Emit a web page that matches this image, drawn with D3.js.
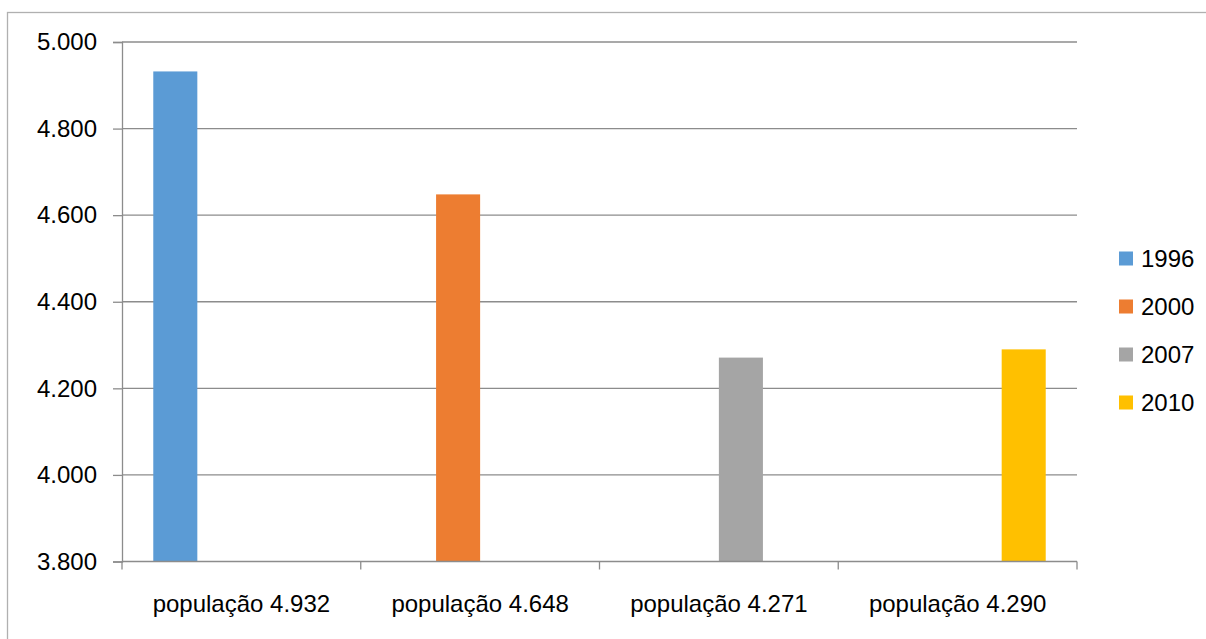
<!DOCTYPE html>
<html>
<head>
<meta charset="utf-8">
<script src="https://cdn.jsdelivr.net/npm/d3@7"></script>
<style>
  html, body { margin: 0; padding: 0; background: #fff; }
  svg { display: block; }
  text { font-family: "Liberation Sans", Arial, sans-serif; fill: #000; }
</style>
</head>
<body>
<svg id="chart" width="1206" height="639"></svg>
<script>
// Categories (x axis) and series (one per year)
const categories = ["população 4.932", "população 4.648", "população 4.271", "população 4.290"];
const years = ["1996", "2000", "2007", "2010"];
const colors = ["#5B9BD5", "#ED7D31", "#A5A5A5", "#FFC000"];

// One value per year; each year only has a value in its own category
const values1996 = [4932, null, null, null];
const values2000 = [null, 4648, null, null];
const values2007 = [null, null, 4271, null];
const values2010 = [null, null, null, 4290];
const seriesValues = [values1996, values2000, values2007, values2010];

const yTicks = [3800, 4000, 4200, 4400, 4600, 4800, 5000];
const yDomain = [3800, 5000];

const svg = d3.select("#chart");

// Outer chart frame
svg.append("rect")
  .attr("x", 7.5).attr("y", 12.5)
  .attr("width", 1210).attr("height", 640)
  .attr("fill", "#fff")
  .attr("stroke", "#b0b0b0")
  .attr("stroke-width", 1.3);

const plot = { left: 122, right: 1077, top: 42, bottom: 561.5 };

const y = d3.scaleLinear().domain(yDomain).range([plot.bottom, plot.top]);
const x0 = d3.scaleBand().domain(categories).range([plot.left, plot.right]).padding(0);
const bw = x0.bandwidth();
const x1 = d3.scaleBand().domain(years).range([bw * 0.131, bw * 0.869]).padding(0);

const fmt = v => d3.format(",.3f")(v / 1000).replace(/,/g, "");

// Horizontal gridlines
svg.append("g")
  .selectAll("line")
  .data(yTicks.filter(t => t !== yDomain[0]))
  .join("line")
  .attr("x1", plot.left).attr("x2", plot.right)
  .attr("y1", d => y(d)).attr("y2", d => y(d))
  .attr("stroke", "#8c8c8c")
  .attr("stroke-width", 1.3);

// Bars
const groups = svg.append("g")
  .selectAll("g")
  .data(years)
  .join("g")
  .attr("fill", (d, i) => colors[i]);

groups.selectAll("rect")
  .data((d, i) => categories.map((c, j) => ({ cat: c, year: d, value: seriesValues[i][j] }))
    .filter(e => e.value != null))
  .join("rect")
  .attr("x", d => x0(d.cat) + x1(d.year))
  .attr("width", x1.bandwidth())
  .attr("y", d => y(d.value))
  .attr("height", d => y(yDomain[0]) - y(d.value));

// Y axis
const yAxis = d3.axisLeft(y)
  .tickValues(yTicks)
  .tickSize(9)
  .tickPadding(16)
  .tickFormat(d => fmt(d));

const gy = svg.append("g")
  .attr("transform", `translate(${plot.left},0)`)
  .call(yAxis);
gy.select(".domain").attr("stroke", "#8c8c8c").attr("stroke-width", 1.3);
gy.selectAll(".tick line").attr("stroke", "#8c8c8c").attr("stroke-width", 1.3);
gy.selectAll(".tick text")
  .attr("font-size", 24)
  .attr("font-family", "'Liberation Sans', Arial, sans-serif")
  .attr("fill", "#000");

// X axis line with boundary ticks
const gx = svg.append("g");
gx.append("line")
  .attr("x1", plot.left).attr("x2", plot.right)
  .attr("y1", plot.bottom).attr("y2", plot.bottom)
  .attr("stroke", "#8c8c8c").attr("stroke-width", 1.3);
const boundaries = categories.map(c => x0(c)).concat([x0(categories[categories.length - 1]) + bw]);
gx.selectAll("line.tick")
  .data(boundaries)
  .join("line")
  .attr("class", "tick")
  .attr("x1", d => d).attr("x2", d => d)
  .attr("y1", plot.bottom).attr("y2", plot.bottom + 8)
  .attr("stroke", "#8c8c8c").attr("stroke-width", 1.3);
gx.selectAll("text")
  .data(categories)
  .join("text")
  .attr("x", d => x0(d) + bw / 2)
  .attr("y", 612)
  .attr("text-anchor", "middle")
  .attr("font-size", 24)
  .text(d => d);

// Legend
const legend = svg.append("g").attr("transform", "translate(1119,258.5)");
const items = legend.selectAll("g")
  .data(years)
  .join("g")
  .attr("transform", (d, i) => `translate(0,${i * 48})`);
items.append("rect")
  .attr("x", 0).attr("y", -7)
  .attr("width", 14).attr("height", 14)
  .attr("fill", (d, i) => colors[i]);
items.append("text")
  .attr("x", 22).attr("y", 8.5)
  .attr("font-size", 24)
  .text(d => d);
</script>
</body>
</html>
